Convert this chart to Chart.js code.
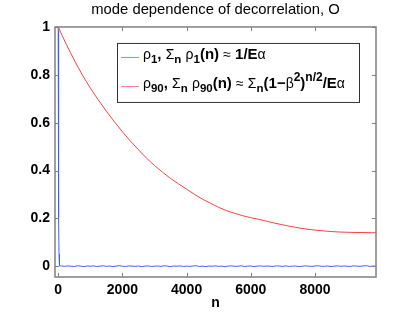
<!DOCTYPE html>
<html>
<head>
<meta charset="utf-8">
<style>
html, body { margin: 0; padding: 0; background: #fff; }
</style>
<script src="https://cdn.jsdelivr.net/npm/chart.js@4"></script>
</head>
<body>
<canvas id="myChart" width="415" height="312"></canvas>
<script>
// tick labels
const xTicks = [0, 2000, 4000, 6000, 8000];
const yTicks = [0, 0.2, 0.4, 0.6, 0.8, 1];

// rho_90 (red)
const redN = [0, 250, 500, 750, 1000, 1250, 1500, 1750, 2000, 2250, 2500, 2750, 3000, 3250, 3500, 3750,
    4000, 4250, 4500, 4750, 5000, 5250, 5500, 5750, 6000, 6250, 6500, 6750, 7000, 7250, 7500, 7750,
    8000, 8250, 8500, 8750, 9000, 9250, 9500, 9750, 9900];
const redV = [1.0, 0.928, 0.862, 0.8, 0.745, 0.695, 0.648, 0.604, 0.562, 0.523, 0.487, 0.452, 0.421, 0.393, 0.367, 0.344,
    0.322, 0.3, 0.28, 0.263, 0.246, 0.232, 0.221, 0.211, 0.203, 0.196, 0.188, 0.18, 0.173, 0.166, 0.16, 0.155,
    0.151, 0.148, 0.145, 0.143, 0.142, 0.141, 0.141, 0.14, 0.14];

// rho_1 (blue): fast drop then small wiggle around zero
const blueHeadN = [0, 8, 16, 25, 40];
const blueHeadV = [1.0, 0.55, 0.2, 0.05, 0.002];
const blueTailV = [
    0.001, -0.0005, 0.0015, 0.000, -0.001, 0.002, 0.0005, -0.0015, 0.001, 0.000,
    0.0015, -0.001, 0.0005, 0.002, -0.0005, 0.001, -0.0015, 0.0005, 0.0025, 0.000,
    -0.001, 0.0015, 0.0005, -0.0005, 0.001, -0.002, 0.0005, 0.0015, -0.001, 0.000,
    0.001, -0.0005, 0.002, 0.0005, -0.0015, 0.001, 0.000, 0.0015, -0.001, 0.0005,
    -0.0005, 0.001, 0.002, -0.001, 0.0005, -0.0015, 0.001, 0.000, 0.0015, -0.0005,
    0.0005, -0.002, 0.001, 0.0015, -0.0005, 0.000, 0.002, -0.001, 0.0005, 0.001,
    -0.0015, 0.0005, 0.0015, -0.0005, 0.001, 0.000, -0.001, 0.002, 0.0005, -0.0005,
    0.0015, -0.001, 0.0005, 0.001, -0.0015, 0.000, 0.0015, 0.0005, -0.001, 0.001,
    0.002, -0.0005, 0.000, 0.001, -0.0015, 0.0005, 0.0015, -0.0005, 0.001, 0.000,
    -0.001, 0.0015, 0.0005, -0.0005, 0.001, 0.0025, -0.001, 0.0005, 0.000
];
const blueTailN = blueTailV.map((v, i) => 100 + i * 100);
const blueN = blueHeadN.concat(blueTailN);
const blueV = blueHeadV.concat(blueTailV);

const FONT = "'Liberation Sans', Arial, sans-serif";
const BLUE = '#3f5fff';
const RED = '#ff4040';

// legend rows: [text, kind]  b=bold, g=greek (plain), s=subscript, p=superscript
const legendRows = [
    { color: '#7f95ff', segs: [['ρ', 'g'], ['1', 's'], [', ', 'b'], ['Σ', 'g'], ['n', 's'], [' ', 'b'], ['ρ', 'g'], ['1', 's'],
        ['(n) ', 'b'], ['≈', 'g'], [' 1/E', 'b'], ['α', 'g']] },
    { color: '#ff8080', segs: [['ρ', 'g'], ['90', 's'], [', ', 'b'], ['Σ', 'g'], ['n', 's'], [' ', 'b'], ['ρ', 'g'], ['90', 's'],
        ['(n) ', 'b'], ['≈', 'g'], [' ', 'b'], ['Σ', 'g'], ['n', 's'], ['(1−', 'b'], ['β', 'g'], ['2', 'p'], [')', 'b'],
        ['n/2', 'p'], ['/E', 'b'], ['α', 'g']] }
];

function drawRich(c, segs, x, y) {
    segs.forEach(([t, k]) => {
        let dy = 0;
        if (k === 'b') c.font = 'bold 15px ' + FONT;
        if (k === 'g') c.font = '14px ' + FONT;
        if (k === 's') { c.font = 'bold 11.5px ' + FONT; dy = 4; }
        if (k === 'p') { c.font = 'bold 12px ' + FONT; dy = -6.5; }
        c.fillText(t, x, y + dy);
        x += c.measureText(t).width;
    });
}

const framePlugin = {
    id: 'frame',
    afterDatasetsDraw(chart) {
        const c = chart.ctx, a = chart.chartArea;
        const xs = chart.scales.x, ys = chart.scales.y;
        c.save();
        c.strokeStyle = '#808080';
        c.lineWidth = 1;
        c.beginPath();
        xTicks.forEach(v => {
            const px = Math.round(xs.getPixelForValue(v)) + 0.5;
            c.moveTo(px, a.bottom); c.lineTo(px, a.bottom - 4);
            c.moveTo(px, a.top); c.lineTo(px, a.top + 4);
        });
        yTicks.forEach(v => {
            const py = Math.round(ys.getPixelForValue(v)) + 0.5;
            c.moveTo(a.left, py); c.lineTo(a.left + 4, py);
            c.moveTo(a.right, py); c.lineTo(a.right - 4, py);
        });
        c.stroke();
        c.lineWidth = 1.5;
        c.strokeRect(a.left, a.top, a.right - a.left, a.bottom - a.top);

        // legend box
        const lx = a.left + 62, ly = a.top + 16, lw = 242, lh = 59;
        c.fillStyle = '#fff';
        c.fillRect(lx, ly, lw, lh);
        c.strokeStyle = '#333';
        c.lineWidth = 1;
        c.strokeRect(lx + 0.5, ly + 0.5, lw, lh);
        c.textBaseline = 'alphabetic';
        c.fillStyle = '#000';
        legendRows.forEach((r, i) => {
            const yy = ly + 14 + i * 29;
            c.strokeStyle = r.color;
            c.beginPath();
            c.moveTo(lx + 4, yy + 0.5); c.lineTo(lx + 22, yy + 0.5);
            c.stroke();
            drawRich(c, r.segs, lx + 26, yy + 2);
        });
        c.restore();
    }
};

const tickFont = { family: FONT, size: 14, weight: 'bold' };

const ctx = document.getElementById('myChart').getContext('2d');
const conf = {
    type: 'line',
    data: {
        datasets: [{
            label: 'rho_1',
            data: blueN.map((n, i) => ({ x: n, y: blueV[i] })),
            borderColor: BLUE,
            borderWidth: 1,
            pointRadius: 0,
            tension: 0
        }, {
            label: 'rho_90',
            data: redN.map((n, i) => ({ x: n, y: redV[i] })),
            borderColor: RED,
            borderWidth: 1,
            pointRadius: 0,
            cubicInterpolationMode: 'monotone'
        }]
    },
    options: {
        responsive: false,
        animation: false,
        devicePixelRatio: 1,
        layout: { padding: { left: 0, right: 39, top: 0, bottom: 0 } },
        plugins: {
            legend: false,
            tooltip: { enabled: false },
            title: {
                display: true,
                text: 'mode dependence of decorrelation, O',
                color: '#000',
                font: { family: FONT, size: 14.8, weight: 'normal' },
                padding: { top: 1.2, bottom: 8 },
                fullSize: false
            }
        },
        scales: {
            x: {
                type: 'linear',
                min: -100,
                max: 9900,
                afterBuildTicks: s => { s.ticks = xTicks.map(v => ({ value: v })); },
                afterFit: s => { s.height = 35; },
                grid: { display: false, drawTicks: false },
                border: { display: false },
                ticks: { color: '#000', font: tickFont, padding: 5, maxRotation: 0, autoSkip: false,
                    callback: v => String(v) },
                title: { display: true, text: 'n', color: '#000', font: tickFont, padding: 0 }
            },
            y: {
                min: -0.045,
                max: 1,
                afterBuildTicks: s => { s.ticks = yTicks.map(v => ({ value: v })); },
                afterFit: s => { s.width = 55; },
                grid: { display: false, drawTicks: false },
                border: { display: false },
                ticks: { color: '#000', font: tickFont, padding: 5, autoSkip: false,
                    callback: v => String(v) }
            }
        }
    },
    plugins: [framePlugin]
};
const myChart = new Chart(ctx, conf);
</script>
</body>
</html>
